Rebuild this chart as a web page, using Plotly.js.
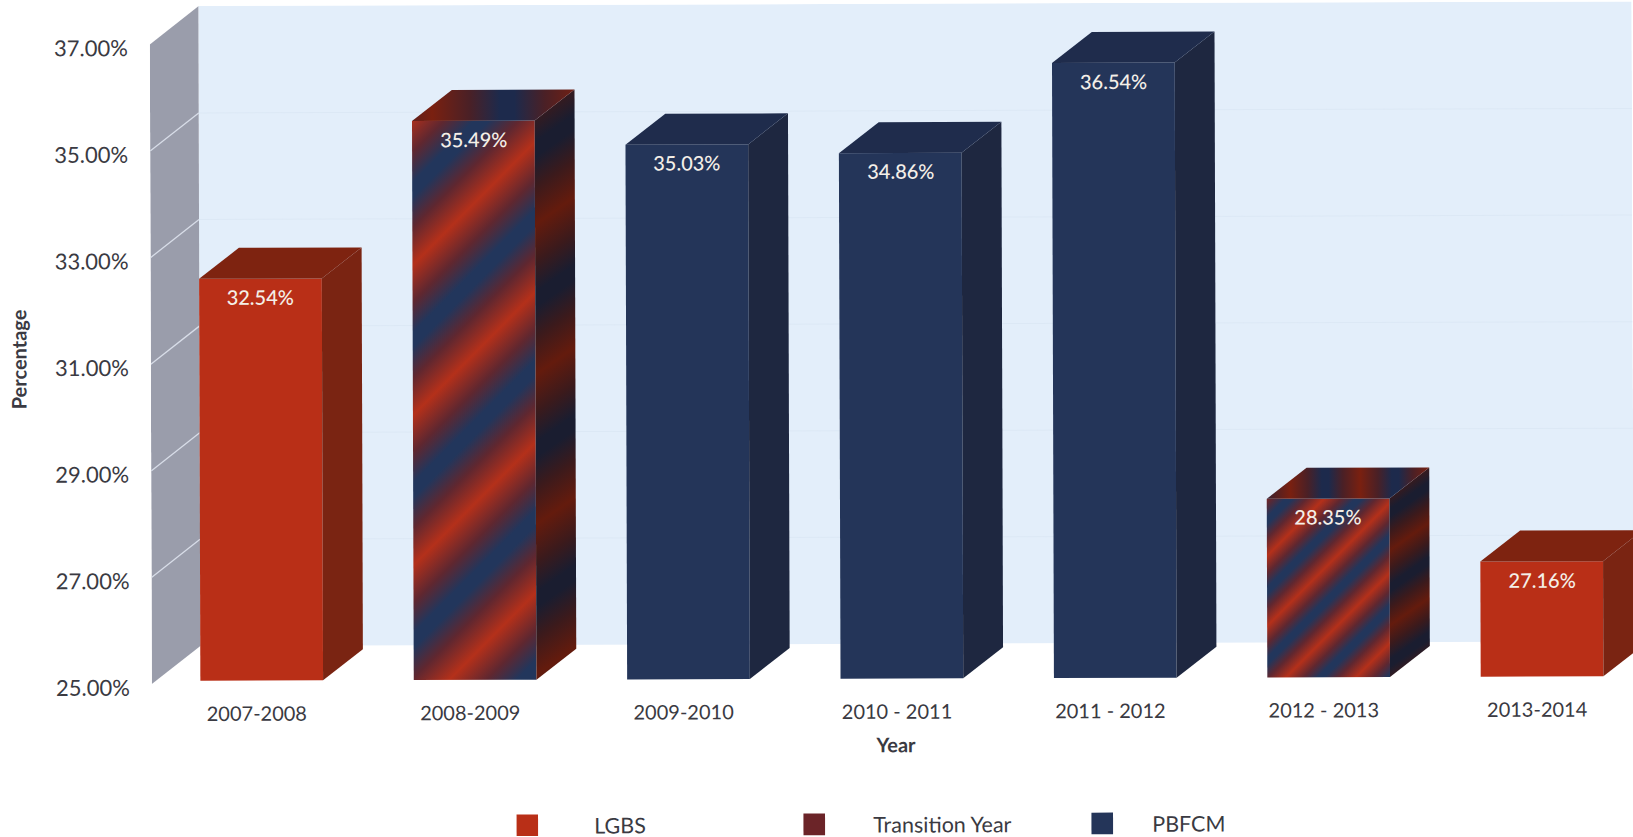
<!DOCTYPE html>
<html><head><meta charset="utf-8">
<script src="https://cdn.plot.ly/plotly-3.0.1.min.js"></script>
<style>html,body{margin:0;padding:0;background:#fff;overflow:hidden;width:1633px;height:837px}
#chart{width:1633px;height:880px;transform:rotate(-0.18deg);transform-origin:816.5px 418.5px}</style>
</head><body><div id="chart"></div>
<script>
const categories=["2007-2008","2008-2009","2009-2010","2010 - 2011","2011 - 2012","2012 - 2013","2013-2014"];
const lgbs=[32.54,null,null,null,null,null,27.16];
const transition=[null,35.49,null,null,null,28.35,null];
const pbfcm=[null,null,35.03,34.86,36.54,null,null];
const yTicks=[25,27,29,31,33,35,37];
const W=0.575, DX=0.187, DY=0.58, BASE=25;
const colors={lgbs:["#b92f17","#7a2412","#7e2310"],transition:["#6b2428","#3a1a20","#3a1a20"],pbfcm:["#243559","#1e2740","#1f2c4c"]};
const XMIN=-0.515, XMAX=6.43, WALLX0=-0.515, WALLX1=-0.287, WALLDROP=0.06, WALLDY=0.713, YMIN=24.79, YMAX=37.66;

const traces=[];
function addSeries(name,vals,c){
  traces.push({type:"bar",name:name,x:categories.map((_,i)=>i),y:vals.map(v=>v==null?null:v-BASE),base:BASE,width:W,
    marker:{color:c[0],line:{width:0}},hoverinfo:"skip"});
}
addSeries("LGBS",lgbs,colors.lgbs);
addSeries("Transition Year",transition,colors.transition);
addSeries("PBFCM",pbfcm,colors.pbfcm);
function addFaces(name,vals,c){
  vals.forEach((v,i)=>{ if(v==null) return;
    const r=i+W/2,l=i-W/2;
    traces.push({type:"scatter",mode:"none",fill:"toself",fillcolor:c[1],showlegend:false,hoverinfo:"skip",name:name+" side",meta:name+"|side|"+i,
      x:[r,r+DX,r+DX,r,r],y:[BASE,BASE+DY,v+DY,v,BASE]});
    traces.push({type:"scatter",mode:"none",fill:"toself",fillcolor:c[2],showlegend:false,hoverinfo:"skip",name:name+" top",meta:name+"|top|"+i,
      x:[l,r,r+DX,l+DX,l],y:[v,v,v+DY,v+DY,v]});
  });
}
addFaces("LGBS",lgbs,colors.lgbs);
addFaces("Transition Year",transition,colors.transition);
addFaces("PBFCM",pbfcm,colors.pbfcm);

const shapes=[
 {type:"rect",layer:"below",x0:WALLX1,x1:XMAX,y0:BASE-WALLDROP+WALLDY,y1:YMAX,fillcolor:"#e3eefa",line:{width:0}},
 {type:"path",layer:"below",path:`M${WALLX0},${BASE-WALLDROP} L${WALLX1},${BASE-WALLDROP+WALLDY} L${WALLX1},${37-WALLDROP+WALLDY} L${WALLX0},${37-WALLDROP} Z`,fillcolor:"#9a9dab",line:{width:0}}
];
yTicks.forEach(t=>{
  if(t>25&&t<37) shapes.push({type:"line",layer:"below",x0:WALLX0,x1:WALLX1,y0:t-WALLDROP,y1:t-WALLDROP+WALLDY,line:{color:"#d8dde8",width:1.3}});
  if(t>25&&t<37) shapes.push({type:"line",layer:"below",x0:WALLX1,x1:XMAX,y0:t-WALLDROP+WALLDY,y1:t-WALLDROP+WALLDY,line:{color:"#dce8f5",width:1}});
});
const annotations=[];
[lgbs,transition,pbfcm].forEach(s=>s.forEach((v,i)=>{ if(v==null) return;
  annotations.push({x:i,y:v,xref:"x",yref:"y",yshift:-18,showarrow:false,text:v.toFixed(2)+"%",font:{family:"Lato",size:20,color:"#f4efe8",weight:500}});
}));
const layout={width:1633,height:880,margin:{l:151,r:0,t:4,b:190},paper_bgcolor:"#fff",plot_bgcolor:"#fff",barmode:"overlay",showlegend:true,
  font:{family:"Lato",color:"#3a3a42"},
  xaxis:{range:[XMIN,XMAX],tickmode:"array",tickvals:categories.map((_,i)=>i),ticktext:categories,showgrid:false,zeroline:false,showline:false,ticks:"",
    tickfont:{size:20,color:"#3a3a42"},ticklabelshift:-5,ticklabelstandoff:8,title:{text:"<b>Year</b>",font:{size:20,color:"#3a3a42"},standoff:16}},
  yaxis:{range:[YMIN,YMAX],tickmode:"array",tickvals:yTicks,ticktext:yTicks.map(t=>t.toFixed(2)+"%"),showgrid:false,zeroline:false,showline:false,ticks:"",
    tickfont:{size:22,color:"#3a3a42"},ticklabelshift:7,ticklabelstandoff:21,title:{text:"<b>Percentage</b>",font:{size:20,color:"#3a3a42"},standoff:22}},
  legend:{orientation:"h",x:0.2456,y:-0.166,yref:"paper",xanchor:"left",yanchor:"top",entrywidthmode:"pixels",entrywidth:196,itemwidth:68,font:{size:21.5,color:"#3a3a42"},itemclick:false,itemdoubleclick:false,bgcolor:"rgba(0,0,0,0)",traceorder:"normal"},
  shapes:shapes,annotations:annotations};
Plotly.newPlot("chart",traces,layout,{displayModeBar:false,responsive:false}).then(gd=>{
  const NS="http://www.w3.org/2000/svg";
  const svg=gd.querySelector("svg.main-svg");
  let defs=svg.querySelector("defs");
  function grad(id,x1,y1,x2,y2,c){
    const g=document.createElementNS(NS,"linearGradient");
    g.setAttribute("id",id);g.setAttribute("gradientUnits","userSpaceOnUse");g.setAttribute("spreadMethod","repeat");
    g.setAttribute("x1",x1);g.setAttribute("y1",y1);g.setAttribute("x2",x2);g.setAttribute("y2",y2);
    [[0,c[0]],[.25,c[1]],[.45,c[2]],[.55,c[2]],[.75,c[1]],[1,c[0]]].forEach(([o,col])=>{const s=document.createElementNS(NS,"stop");s.setAttribute("offset",o);s.setAttribute("stop-color",col);g.appendChild(s);});
    defs.appendChild(g);
  }
  const front=["#b4301a","#5f2730","#22365c"], side=["#641b0d","#3b1a1c","#1a1d30"], top=["#7a2010","#4a2026","#1d2a4c"];
  grad("f1",36,36,111,111,front); grad("s1",0,39,70.5,139.7,side); grad("t1",132,0,282,0,top);
  grad("f5",29.5,29.5,64.5,64.5,front); grad("s5",0,66,35.2,116.3,side); grad("t5",19,0,89,0,top);
  const shifts=[11,19,28];
  gd.querySelectorAll(".legend .traces").forEach((t,i)=>{
    t.querySelectorAll(".legendpoints path").forEach(p=>{p.setAttribute("transform",`translate(${shifts[i]},0) scale(1.8)`);});
  });
  const yt=gd.querySelector(".ytitle"); if(yt) yt.setAttribute("transform",`translate(0,10) ${yt.getAttribute("transform")||""}`);
  const xt=gd.querySelector(".xtitle"); if(xt) xt.setAttribute("transform",`translate(3,0) ${xt.getAttribute("transform")||""}`);
  const bars=gd.querySelectorAll(".barlayer .trace")[1];
  if(bars){bars.querySelectorAll(".point path").forEach(p=>{const b=p.getBBox();p.style.fill=b.height>300?"url(#f1)":"url(#f5)";});}
  gd.querySelectorAll(".scatterlayer .trace").forEach((t,k)=>{
    const m=gd.data[k+3]&&gd.data[k+3].meta; if(!m||!m.startsWith("Transition")) return;
    const p=m.split("|"); const id=(p[1]==="side"?"s":"t")+p[2];
    t.querySelectorAll(".js-fill").forEach(e=>{e.style.fill=`url(#${id})`;});
  });
});
</script></body></html>
